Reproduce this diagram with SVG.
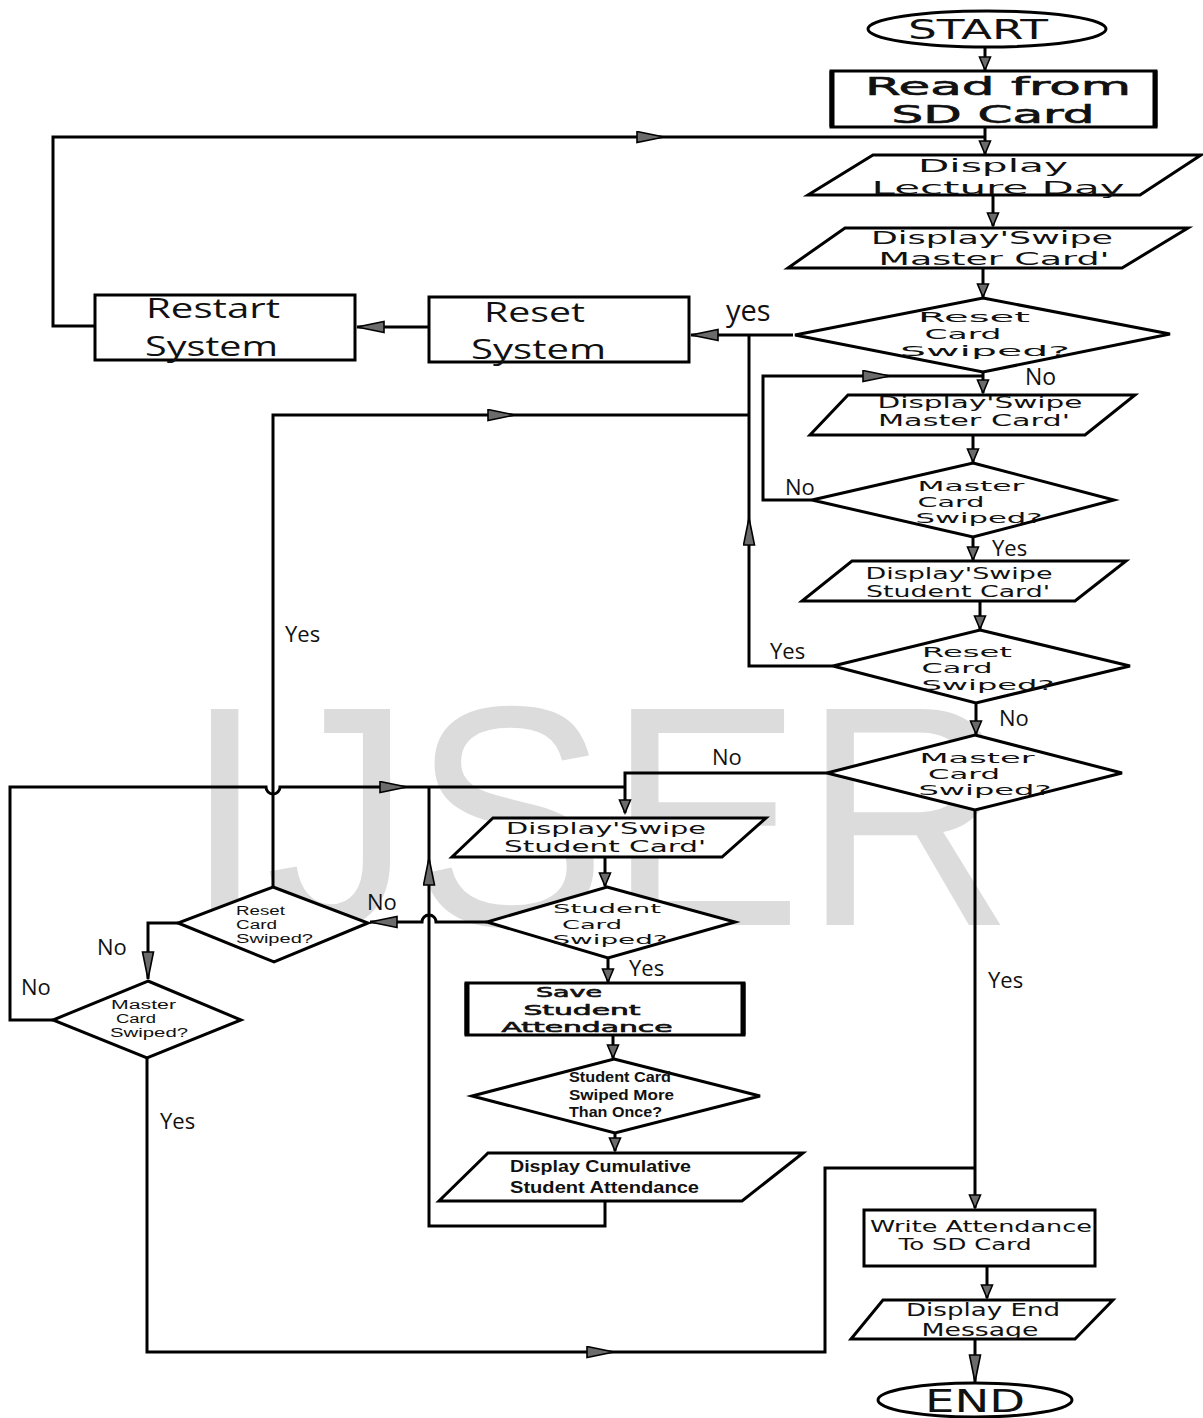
<svg xmlns="http://www.w3.org/2000/svg" width="1203" height="1418" viewBox="0 0 1203 1418">
<defs>
<style>
.s{fill:#fff;stroke:#000;stroke-width:3}
.c{fill:none;stroke:#000;stroke-width:3}
.w{font-family:"DejaVu Sans",Verdana,sans-serif;fill:#111;text-anchor:middle}
.m{font-family:"DejaVu Sans",Verdana,sans-serif;fill:#111;text-anchor:middle;stroke:#111;stroke-width:0.6}
.k{font-family:"Open Sans","Liberation Sans",sans-serif;fill:#111}
.q{font-family:"Liberation Sans",Arial,sans-serif;fill:#111}
.b{font-family:"Liberation Sans",Arial,sans-serif;font-weight:bold;fill:#111}
</style>
<marker id="a" markerUnits="userSpaceOnUse" markerWidth="16" markerHeight="14" refX="14" refY="6.5" orient="auto" viewBox="0 0 16 14">
<path d="M1,1 L14,6.5 L1,12 z" fill="#6b6b6b" stroke="#000" stroke-width="1.6"/>
</marker>
<marker id="al" markerUnits="userSpaceOnUse" markerWidth="30" markerHeight="14" refX="28" refY="6.5" orient="auto" viewBox="0 0 30 14">
<path d="M1,1 L28,6.5 L1,12 z" fill="#6b6b6b" stroke="#000" stroke-width="1.6"/>
</marker>
</defs>
<rect width="1203" height="1418" fill="#fff"/>
<text x="184" y="925" font-family="Liberation Sans,Arial,sans-serif" font-size="314" fill="#dcdcdc" textLength="830" lengthAdjust="spacingAndGlyphs">IJSER</text>

<g id="connectors">
<path class="c" d="M985,47 V70" marker-end="url(#a)"/>
<path class="c" d="M985,127 V154" marker-end="url(#a)"/>
<path class="c" d="M95,326 H53 V137 H664" marker-end="url(#al)"/>
<path class="c" d="M664,137 H985"/>
<path class="c" d="M993,196 V226" marker-end="url(#a)"/>
<path class="c" d="M983,268 V297" marker-end="url(#a)"/>
<path class="c" d="M793,335 H691" marker-end="url(#al)"/>
<path class="c" d="M429,327 H357" marker-end="url(#al)"/>
<path class="c" d="M983,372 V393" marker-end="url(#a)"/>
<path class="c" d="M812,500 H763 V376 H890" marker-end="url(#al)"/>
<path class="c" d="M890,376 H983"/>
<path class="c" d="M973,435 V462" marker-end="url(#a)"/>
<path class="c" d="M973,537 V560" marker-end="url(#a)"/>
<path class="c" d="M980,601 V629" marker-end="url(#a)"/>
<path class="c" d="M833,666 H749 V518" marker-end="url(#al)"/>
<path class="c" d="M749,518 V335"/>
<path class="c" d="M273,887 V415 H515" marker-end="url(#al)"/>
<path class="c" d="M515,415 H749"/>
<path class="c" d="M976,703 V734" marker-end="url(#a)"/>
<path class="c" d="M827,773 H625 V813" marker-end="url(#a)"/>
<path class="c" d="M975,810 V1208" marker-end="url(#a)"/>
<path class="c" d="M605,857 V886" marker-end="url(#a)"/>
<path class="c" d="M487,922 H436 A7,7 0 0 0 422,922 H370" marker-end="url(#al)"/>
<path class="c" d="M608,958 V982" marker-end="url(#a)"/>
<path class="c" d="M613,1035 V1058" marker-end="url(#a)"/>
<path class="c" d="M615,1133 V1151" marker-end="url(#a)"/>
<path class="c" d="M605,1201 V1226 H429 V858" marker-end="url(#al)"/>
<path class="c" d="M429,858 V787"/>
<path class="c" d="M178,923 H148 V979" marker-end="url(#al)"/>
<path class="c" d="M53,1020 H10 V787 H266 A7,7 0 0 0 280,787 H407" marker-end="url(#al)"/>
<path class="c" d="M407,787 H625"/>
<path class="c" d="M147,1058 V1352 H614" marker-end="url(#al)"/>
<path class="c" d="M614,1352 H825 V1168 H975"/>
<path class="c" d="M987,1266 V1298" marker-end="url(#a)"/>
<path class="c" d="M975,1339 V1382" marker-end="url(#al)"/>
</g>

<g id="labels" class="k">
<text x="726" y="321" font-size="29">yes</text>
<text x="1025" y="385" font-size="23">No</text>
<text x="785" y="495" font-size="22">No</text>
<text x="992" y="556" font-size="22">Yes</text>
<text x="770" y="659" font-size="22">Yes</text>
<text x="999" y="726" font-size="22">No</text>
<text x="712" y="765" font-size="22">No</text>
<text x="988" y="988" font-size="22">Yes</text>
<text x="285" y="642" font-size="22">Yes</text>
<text x="367" y="910" font-size="22">No</text>
<text x="629" y="976" font-size="22">Yes</text>
<text x="97" y="955" font-size="22">No</text>
<text x="21" y="995" font-size="22">No</text>
<text x="160" y="1129" font-size="22">Yes</text>
</g>

<g id="start">
<ellipse class="s" cx="987" cy="29" rx="119" ry="18"/>
<text class="w" x="978" y="39" font-size="27" textLength="140" lengthAdjust="spacingAndGlyphs">START</text>
</g>
<g id="read">
<rect class="s" x="831" y="71" width="325" height="56"/>
<path d="M832,71 V127 M1155,71 V127" stroke="#000" stroke-width="5"/>
<text class="m" x="998" y="95" font-size="24" textLength="266" lengthAdjust="spacingAndGlyphs">Read from</text>
<text class="m" x="993" y="123" font-size="24" textLength="203" lengthAdjust="spacingAndGlyphs">SD Card</text>
</g>
<g id="lecture">
<polygon class="s" points="873,155 1201,155 1140,195 808,195"/>
<text class="w" x="993" y="172" font-size="18.5" textLength="150" lengthAdjust="spacingAndGlyphs">Display</text>
<text class="w" x="998" y="194" font-size="18.5" textLength="253" lengthAdjust="spacingAndGlyphs">Lecture Day</text>
</g>
<g id="swipe-master-1">
<polygon class="s" points="845,228 1188,228 1122,268 788,268"/>
<text class="w" x="992" y="244" font-size="17.5" textLength="242" lengthAdjust="spacingAndGlyphs">Display'Swipe</text>
<text class="w" x="994" y="265" font-size="17.5" textLength="231" lengthAdjust="spacingAndGlyphs">Master Card'</text>
</g>
<g id="reset-1">
<polygon class="s" points="983,298 1170,334 983,372 795,335"/>
<text class="w" x="974" y="322" font-size="14.5" textLength="112" lengthAdjust="spacingAndGlyphs">Reset</text>
<text class="w" x="963" y="339" font-size="14.5" textLength="77" lengthAdjust="spacingAndGlyphs">Card</text>
<text class="w" x="985" y="356" font-size="14.5" textLength="170" lengthAdjust="spacingAndGlyphs">Swiped?</text>
</g>
<g id="reset-system">
<rect class="s" x="429" y="297" width="260" height="65"/>
<text class="k" x="484" y="322" font-size="27" textLength="101" lengthAdjust="spacingAndGlyphs">Reset</text>
<text class="k" x="471" y="359" font-size="27" textLength="135" lengthAdjust="spacingAndGlyphs">System</text>
</g>
<g id="restart-system">
<rect class="s" x="95" y="295" width="260" height="65"/>
<text class="k" x="146" y="318" font-size="27" textLength="134" lengthAdjust="spacingAndGlyphs">Restart</text>
<text class="k" x="145" y="356" font-size="27" textLength="133" lengthAdjust="spacingAndGlyphs">System</text>
</g>
<g id="swipe-master-2">
<polygon class="s" points="848,395 1135,395 1085,435 810,435"/>
<text class="w" x="980" y="408" font-size="15" textLength="205" lengthAdjust="spacingAndGlyphs">Display'Swipe</text>
<text class="w" x="974" y="426" font-size="15" textLength="192" lengthAdjust="spacingAndGlyphs">Master Card'</text>
</g>
<g id="master-1">
<polygon class="s" points="973,463 1114,500 973,537 812,500"/>
<text class="w" x="971" y="491" font-size="13.5" textLength="107" lengthAdjust="spacingAndGlyphs">Master</text>
<text class="w" x="951" y="507" font-size="13.5" textLength="67" lengthAdjust="spacingAndGlyphs">Card</text>
<text class="w" x="979" y="523" font-size="13.5" textLength="127" lengthAdjust="spacingAndGlyphs">Swiped?</text>
</g>
<g id="swipe-student-1">
<polygon class="s" points="852,561 1126,561 1075,601 802,601"/>
<text class="w" x="959" y="579" font-size="15" textLength="187" lengthAdjust="spacingAndGlyphs">Display'Swipe</text>
<text class="w" x="958" y="597" font-size="15" textLength="184" lengthAdjust="spacingAndGlyphs">Student Card'</text>
</g>
<g id="reset-2">
<polygon class="s" points="980,630 1130,666 976,703 833,666"/>
<text class="w" x="967" y="657" font-size="13.5" textLength="90" lengthAdjust="spacingAndGlyphs">Reset</text>
<text class="w" x="957" y="673" font-size="13.5" textLength="71" lengthAdjust="spacingAndGlyphs">Card</text>
<text class="w" x="988" y="690" font-size="13.5" textLength="133" lengthAdjust="spacingAndGlyphs">Swiped?</text>
</g>
<g id="master-2">
<polygon class="s" points="975,735 1122,773 975,810 827,773"/>
<text class="w" x="977" y="763" font-size="13.5" textLength="115" lengthAdjust="spacingAndGlyphs">Master</text>
<text class="w" x="964" y="779" font-size="13.5" textLength="72" lengthAdjust="spacingAndGlyphs">Card</text>
<text class="w" x="985" y="795" font-size="13.5" textLength="133" lengthAdjust="spacingAndGlyphs">Swiped?</text>
</g>
<g id="swipe-student-2">
<polygon class="s" points="493,818 766,818 722,857 452,857"/>
<text class="w" x="606" y="834" font-size="15" textLength="200" lengthAdjust="spacingAndGlyphs">Display'Swipe</text>
<text class="w" x="605" y="852" font-size="15" textLength="202" lengthAdjust="spacingAndGlyphs">Student Card'</text>
</g>
<g id="student-swiped">
<polygon class="s" points="607,887 735,922 608,958 487,922"/>
<text class="w" x="607" y="913" font-size="13" textLength="108" lengthAdjust="spacingAndGlyphs">Student</text>
<text class="w" x="592" y="929" font-size="13" textLength="60" lengthAdjust="spacingAndGlyphs">Card</text>
<text class="w" x="610" y="944" font-size="13" textLength="115" lengthAdjust="spacingAndGlyphs">Swiped?</text>
</g>
<g id="save">
<rect class="s" x="466" y="983" width="278" height="52"/>
<path d="M467,983 V1035 M743,983 V1035" stroke="#000" stroke-width="5"/>
<text class="m" x="569" y="997" font-size="14" textLength="66" lengthAdjust="spacingAndGlyphs">Save</text>
<text class="m" x="582" y="1015" font-size="14" textLength="117" lengthAdjust="spacingAndGlyphs">Student</text>
<text class="m" x="587" y="1032" font-size="14" textLength="171" lengthAdjust="spacingAndGlyphs">Attendance</text>
</g>
<g id="more-than-once">
<polygon class="s" points="614,1059 760,1096 615,1133 472,1096"/>
<text class="b" x="569" y="1082" font-size="14" textLength="102" lengthAdjust="spacingAndGlyphs">Student Card</text>
<text class="b" x="569" y="1100" font-size="14" textLength="105" lengthAdjust="spacingAndGlyphs">Swiped More</text>
<text class="b" x="569" y="1117" font-size="14" textLength="93" lengthAdjust="spacingAndGlyphs">Than Once?</text>
</g>
<g id="cumulative">
<polygon class="s" points="488,1153 803,1153 742,1201 439,1201"/>
<text class="b" x="510" y="1172" font-size="16.5" textLength="181" lengthAdjust="spacingAndGlyphs">Display Cumulative</text>
<text class="b" x="510" y="1193" font-size="16.5" textLength="189" lengthAdjust="spacingAndGlyphs">Student Attendance</text>
</g>
<g id="reset-left">
<polygon class="s" points="273,887 368,923 274,962 178,923"/>
<text class="q" x="236" y="915" font-size="12" textLength="49" lengthAdjust="spacingAndGlyphs">Reset</text>
<text class="q" x="236" y="929" font-size="12" textLength="41" lengthAdjust="spacingAndGlyphs">Card</text>
<text class="q" x="236" y="943" font-size="12" textLength="77" lengthAdjust="spacingAndGlyphs">Swiped?</text>
</g>
<g id="master-left">
<polygon class="s" points="148,981 241,1020 147,1058 53,1020"/>
<text class="q" x="111" y="1009" font-size="12" textLength="65" lengthAdjust="spacingAndGlyphs">Master</text>
<text class="q" x="116" y="1023" font-size="12" textLength="40" lengthAdjust="spacingAndGlyphs">Card</text>
<text class="q" x="110" y="1037" font-size="12" textLength="78" lengthAdjust="spacingAndGlyphs">Swiped?</text>
</g>
<g id="write">
<rect class="s" x="864" y="1210" width="231" height="56"/>
<text class="w" x="981" y="1232" font-size="15" textLength="222" lengthAdjust="spacingAndGlyphs">Write Attendance</text>
<text class="w" x="965" y="1250" font-size="15" textLength="133" lengthAdjust="spacingAndGlyphs">To SD Card</text>
</g>
<g id="end-message">
<polygon class="s" points="883,1300 1113,1300 1075,1339 851,1339"/>
<text class="w" x="983" y="1316" font-size="17" textLength="154" lengthAdjust="spacingAndGlyphs">Display End</text>
<text class="w" x="980" y="1336" font-size="17" textLength="117" lengthAdjust="spacingAndGlyphs">Message</text>
</g>
<g id="end">
<ellipse class="s" cx="975" cy="1400" rx="97" ry="17"/>
<text class="w" x="975" y="1412" font-size="32" textLength="100" lengthAdjust="spacingAndGlyphs">END</text>
</g>
</svg>
